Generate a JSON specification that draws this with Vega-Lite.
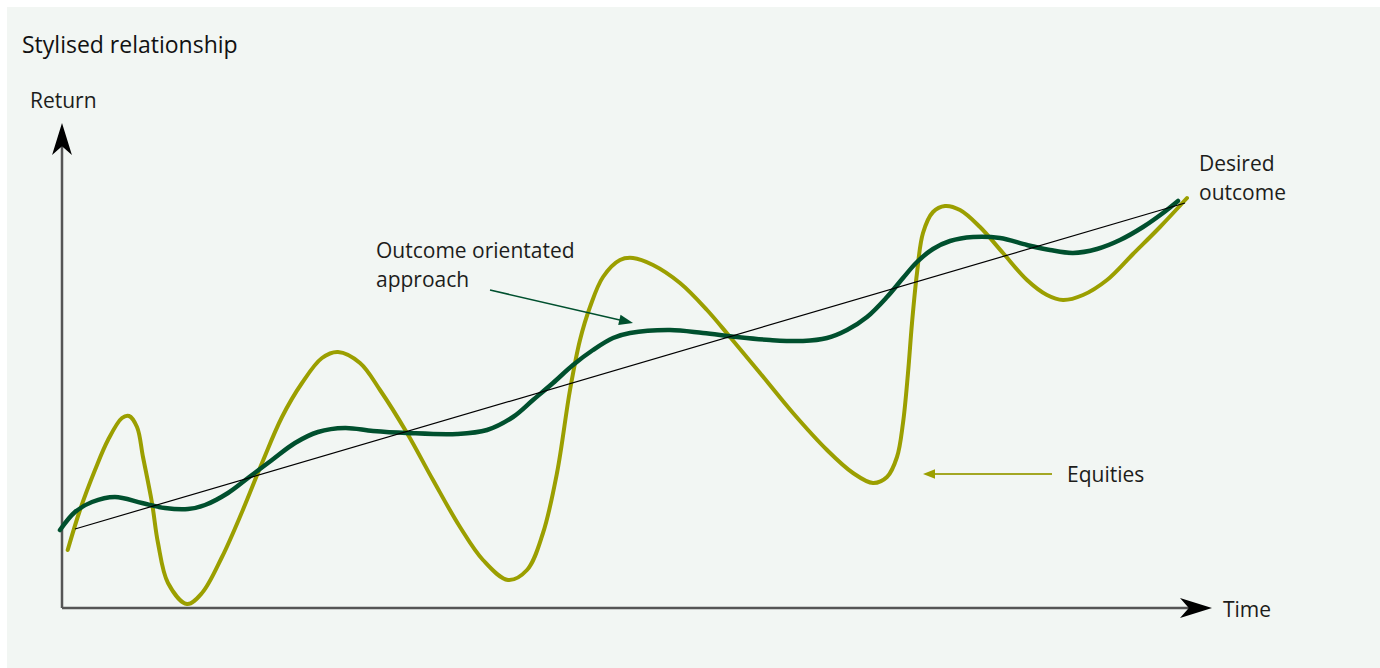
{
  "$schema": "https://vega.github.io/schema/vega-lite/v6.json",
  "width": 1380,
  "height": 668,
  "autosize": {"type": "fit", "contains": "padding"},
  "padding": {"left": 7, "top": 7, "right": 0, "bottom": 0},
  "background": "#ffffff",
  "config": {
    "view": {"fill": "#f2f6f3", "stroke": null},
    "text": {"font": "Open Sans", "fontSize": 21, "color": "#1d1d1b"}
  },
  "datasets": {
    "equities": [
      {"t": 0.57, "r": 5.8}, {"t": 1.8, "r": 9.8}, {"t": 3.3, "r": 13.8}, {"t": 4.6, "r": 16.8},
      {"t": 6.0, "r": 19.0}, {"t": 6.7, "r": 19.2}, {"t": 7.5, "r": 18.1}, {"t": 8.1, "r": 15.1},
      {"t": 9.0, "r": 10.5}, {"t": 9.6, "r": 6.5}, {"t": 10.6, "r": 2.5}, {"t": 12.5, "r": 0.4},
      {"t": 14.0, "r": 1.5}, {"t": 16.0, "r": 5.1}, {"t": 18.0, "r": 9.6}, {"t": 20.0, "r": 14.5},
      {"t": 22.0, "r": 19.1}, {"t": 24.0, "r": 22.5}, {"t": 26.0, "r": 25.0}, {"t": 27.6, "r": 25.6},
      {"t": 29.8, "r": 24.5}, {"t": 31.8, "r": 21.8}, {"t": 34.5, "r": 17.5}, {"t": 37.1, "r": 12.8},
      {"t": 39.8, "r": 8.1}, {"t": 42.1, "r": 4.8}, {"t": 44.6, "r": 2.8}, {"t": 46.5, "r": 3.8},
      {"t": 48.1, "r": 7.5}, {"t": 49.5, "r": 13.5}, {"t": 50.8, "r": 21.8}, {"t": 51.8, "r": 26.8},
      {"t": 52.8, "r": 30.1}, {"t": 54.1, "r": 33.1}, {"t": 55.8, "r": 34.8}, {"t": 57.1, "r": 35.0},
      {"t": 59.1, "r": 34.3}, {"t": 61.8, "r": 32.5}, {"t": 64.5, "r": 29.8}, {"t": 66.8, "r": 27.1},
      {"t": 69.8, "r": 23.5}, {"t": 73.1, "r": 19.5}, {"t": 76.5, "r": 15.8}, {"t": 79.1, "r": 13.5},
      {"t": 81.1, "r": 12.5}, {"t": 82.5, "r": 13.1}, {"t": 83.5, "r": 15.1}, {"t": 84.1, "r": 18.5},
      {"t": 84.6, "r": 23.5}, {"t": 85.0, "r": 28.5}, {"t": 85.5, "r": 33.5}, {"t": 86.1, "r": 37.5},
      {"t": 87.1, "r": 39.6}, {"t": 88.3, "r": 40.2}, {"t": 89.8, "r": 39.8}, {"t": 91.8, "r": 38.1},
      {"t": 94.1, "r": 35.5}, {"t": 96.5, "r": 32.8}, {"t": 98.5, "r": 31.3}, {"t": 100.1, "r": 30.8},
      {"t": 102.1, "r": 31.3}, {"t": 104.5, "r": 32.8}, {"t": 107.1, "r": 35.4}, {"t": 109.8, "r": 38.1},
      {"t": 112.5, "r": 41.0}
    ],
    "outcome": [
      {"t": -0.2, "r": 7.8}, {"t": 1.3, "r": 9.6}, {"t": 3.0, "r": 10.6}, {"t": 5.3, "r": 11.1},
      {"t": 8.0, "r": 10.5}, {"t": 10.3, "r": 10.0}, {"t": 12.6, "r": 9.9}, {"t": 14.3, "r": 10.3},
      {"t": 16.6, "r": 11.5}, {"t": 18.6, "r": 13.0}, {"t": 21.0, "r": 14.8}, {"t": 23.3, "r": 16.5},
      {"t": 25.6, "r": 17.6}, {"t": 28.3, "r": 18.0}, {"t": 31.1, "r": 17.7}, {"t": 34.5, "r": 17.5},
      {"t": 39.5, "r": 17.4}, {"t": 42.5, "r": 17.8}, {"t": 45.1, "r": 19.1}, {"t": 47.1, "r": 20.8},
      {"t": 49.1, "r": 22.5}, {"t": 51.1, "r": 24.3}, {"t": 53.1, "r": 25.8}, {"t": 55.1, "r": 27.0},
      {"t": 56.8, "r": 27.5}, {"t": 60.8, "r": 27.8}, {"t": 64.1, "r": 27.5}, {"t": 67.5, "r": 27.1},
      {"t": 70.8, "r": 26.8}, {"t": 74.1, "r": 26.7}, {"t": 76.5, "r": 27.0}, {"t": 78.5, "r": 27.8},
      {"t": 80.5, "r": 29.1}, {"t": 82.5, "r": 31.1}, {"t": 84.1, "r": 33.0}, {"t": 85.5, "r": 34.6},
      {"t": 87.1, "r": 35.9}, {"t": 88.8, "r": 36.7}, {"t": 91.1, "r": 37.1}, {"t": 93.8, "r": 37.0},
      {"t": 96.5, "r": 36.3}, {"t": 98.8, "r": 35.8}, {"t": 101.1, "r": 35.5}, {"t": 103.5, "r": 35.9},
      {"t": 105.8, "r": 36.8}, {"t": 108.1, "r": 38.1}, {"t": 110.1, "r": 39.5}, {"t": 111.6, "r": 40.7}
    ],
    "trend": [{"t": 1.3, "r": 7.9}, {"t": 112.3, "r": 40.5}],
    "axes": [
      {"t": 0, "r": 0, "t2": 0, "r2": 47.0},
      {"t": 0, "r": 0, "t2": 113.6, "r2": 0}
    ],
    "labels": [
      {"t": -4.0, "r": 55.5, "label": "Stylised relationship", "kind": "title"},
      {"t": -3.2, "r": 50.0, "label": "Return", "kind": "axis"},
      {"t": 116.1, "r": -0.9, "label": "Time", "kind": "axis"},
      {"t": 113.7, "r": 43.7, "label": "Desired", "kind": "note"},
      {"t": 113.7, "r": 40.8, "label": "outcome", "kind": "note"},
      {"t": 31.4, "r": 35.0, "label": "Outcome orientated", "kind": "note"},
      {"t": 31.4, "r": 32.1, "label": "approach", "kind": "note"},
      {"t": 100.5, "r": 12.6, "label": "Equities", "kind": "note"}
    ]
  },
  "encoding": {
    "x": {"field": "t", "type": "quantitative", "axis": null,
          "scale": {"domain": [-5.5, 131.8], "nice": false, "zero": false}},
    "y": {"field": "r", "type": "quantitative", "axis": null,
          "scale": {"domain": [-6.0, 60.1], "nice": false, "zero": false}}
  },
  "layer": [
    {
      "data": {"name": "axes"},
      "mark": {"type": "rule", "color": "#555555", "strokeWidth": 2.5},
      "encoding": {
        "x2": {"field": "t2"},
        "y2": {"field": "r2"}
      }
    },
    {
      "data": {"values": [{"t": 0, "r": 46.9}]},
      "mark": {"type": "point", "shape": "M0,-1 L0.62,1 L0,0.45 L-0.62,1 Z", "size": 1024,
               "filled": true, "color": "#000000", "opacity": 1, "strokeWidth": 0}
    },
    {
      "data": {"values": [{"t": 113.4, "r": 0}]},
      "mark": {"type": "point", "shape": "M1,0 L-1,-0.62 L-0.45,0 L-1,0.62 Z", "size": 1024,
               "filled": true, "color": "#000000", "opacity": 1, "strokeWidth": 0}
    },
    {
      "data": {"name": "equities"},
      "mark": {"type": "line", "color": "#9b9f00", "strokeWidth": 4, "interpolate": "catmull-rom",
               "strokeCap": "round"},
      "encoding": {"order": {"field": "t", "type": "quantitative"}}
    },
    {
      "data": {"name": "outcome"},
      "mark": {"type": "line", "color": "#00502e", "strokeWidth": 4.5, "interpolate": "catmull-rom",
               "strokeCap": "round"},
      "encoding": {"order": {"field": "t", "type": "quantitative"}}
    },
    {
      "data": {"name": "trend"},
      "mark": {"type": "line", "color": "#000000", "strokeWidth": 1.2},
      "encoding": {}
    },
    {
      "data": {"values": [{"t": 42.8, "r": 31.8}, {"t": 56.0, "r": 28.75}]},
      "mark": {"type": "line", "color": "#00502e", "strokeWidth": 1.5},
      "encoding": {}
    },
    {
      "data": {"values": [{"t": 56.42, "r": 28.66}]},
      "mark": {"type": "point", "shape": "M1,0 L-1,-0.75 L-1,0.75 Z", "size": 196, "angle": 13,
               "filled": true, "color": "#00502e", "opacity": 1, "strokeWidth": 0}
    },
    {
      "data": {"values": [{"t": 99.0, "r": 13.4}, {"t": 87.2, "r": 13.4}]},
      "mark": {"type": "line", "color": "#a3a724", "strokeWidth": 2},
      "encoding": {}
    },
    {
      "data": {"values": [{"t": 86.7, "r": 13.4}]},
      "mark": {"type": "point", "shape": "M-1,0 L1,-0.8 L1,0.8 Z", "size": 144,
               "filled": true, "color": "#9b9f00", "opacity": 1, "strokeWidth": 0}
    },
    {
      "data": {"name": "labels"},
      "transform": [{"filter": "datum.kind !== 'title'"}],
      "mark": {"type": "text", "align": "left", "baseline": "alphabetic"},
      "encoding": {"text": {"field": "label"}}
    },
    {
      "data": {"name": "labels"},
      "transform": [{"filter": "datum.kind === 'title'"}],
      "mark": {"type": "text", "align": "left", "baseline": "alphabetic", "fontSize": 23, "color": "#111111"},
      "encoding": {"text": {"field": "label"}}
    }
  ]
}
